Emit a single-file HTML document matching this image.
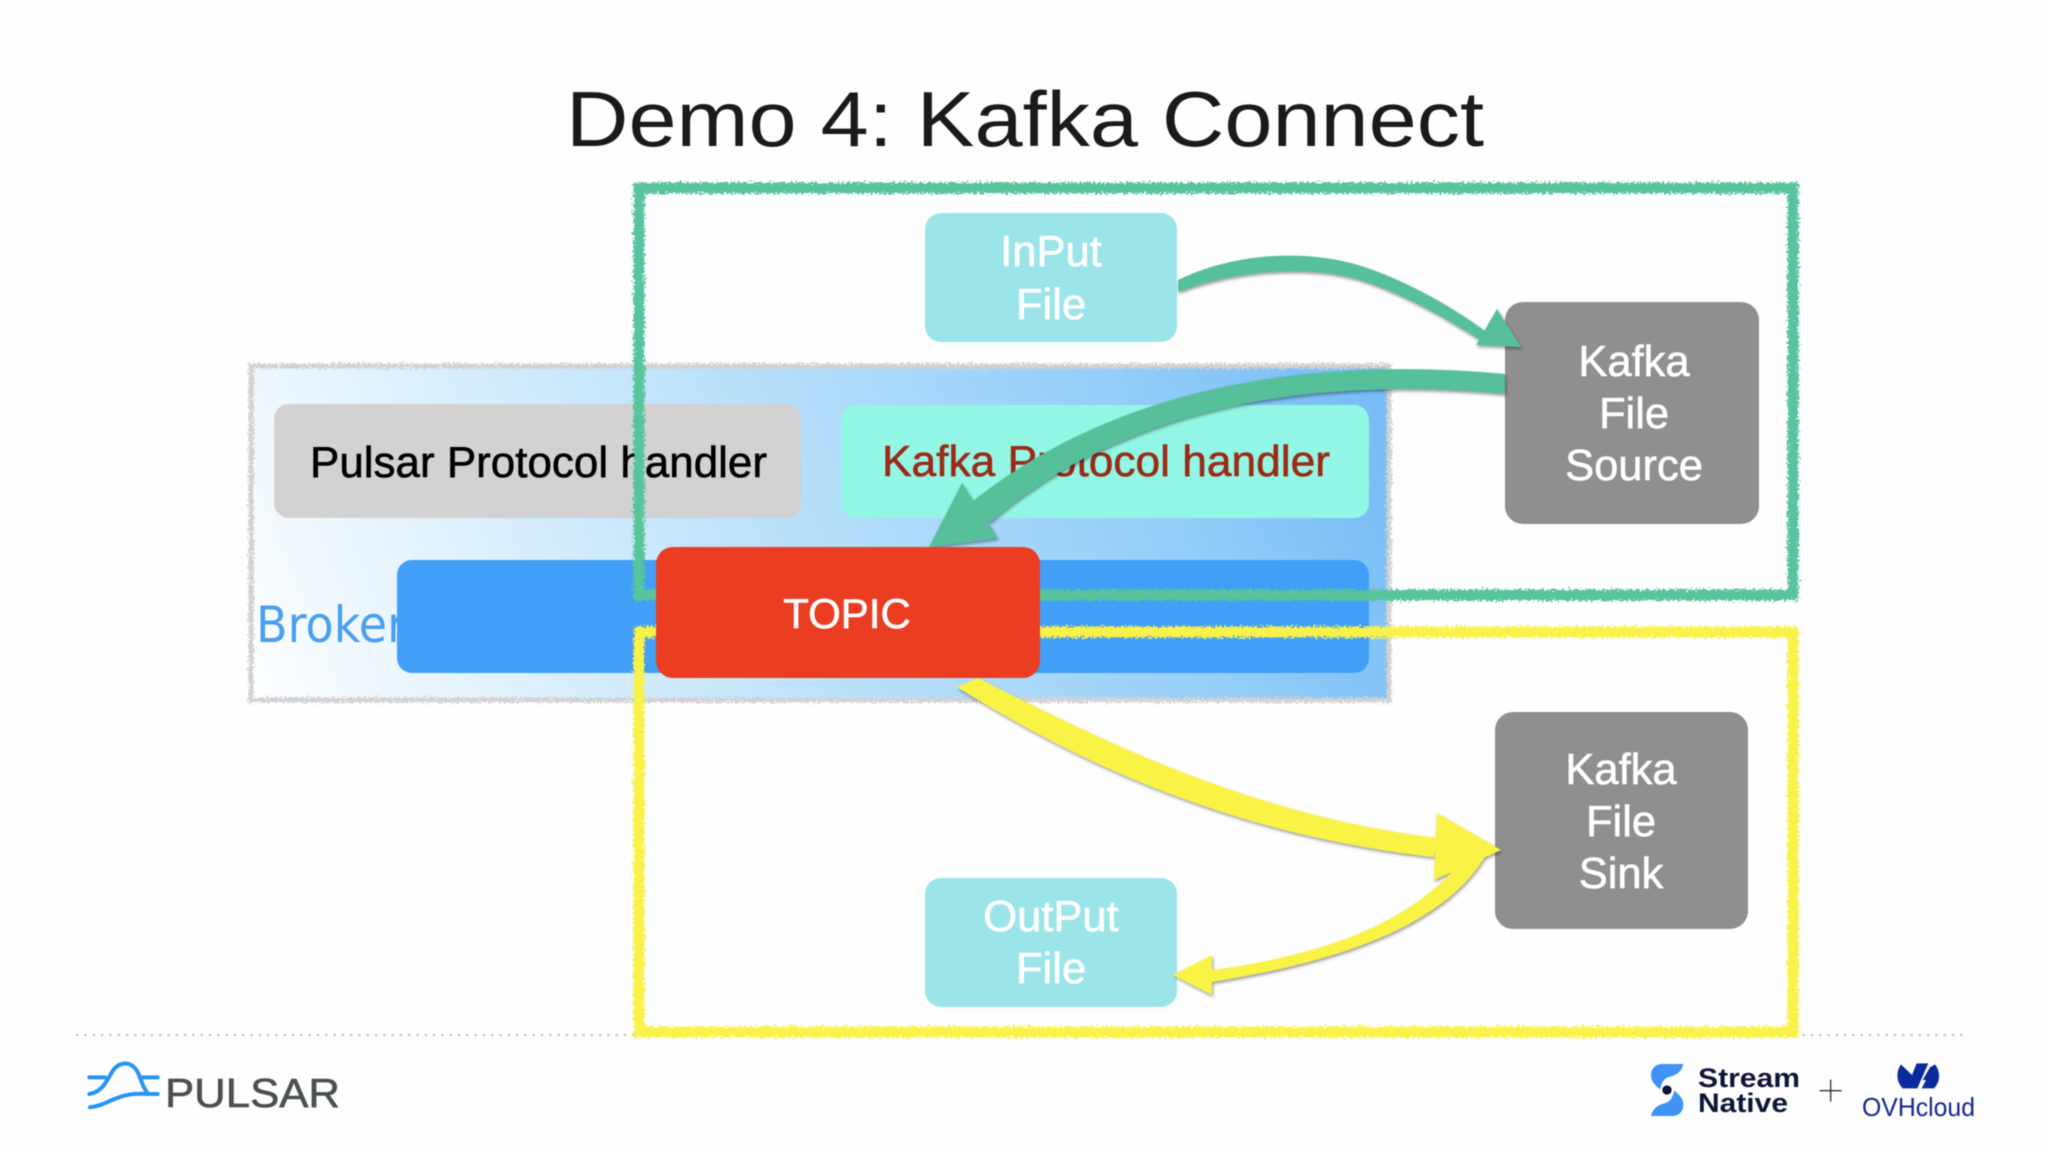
<!DOCTYPE html>
<html>
<head>
<meta charset="utf-8">
<style>
html,body{margin:0;padding:0;background:#fefefe;width:2048px;height:1152px;overflow:hidden}
svg{display:block;filter:blur(.5px)}
text{font-family:"Liberation Sans",sans-serif}
.b{stroke-width:.6px;paint-order:stroke}
</style>
</head>
<body>
<svg width="2048" height="1152" viewBox="0 0 2048 1152" xmlns="http://www.w3.org/2000/svg">
<defs>
<linearGradient id="pg" gradientUnits="userSpaceOnUse" x1="270" y1="730" x2="1340" y2="300">
<stop offset="0" stop-color="#fdfeff"/>
<stop offset=".42" stop-color="#c2e5fb"/>
<stop offset=".8" stop-color="#93cdf9"/>
<stop offset="1" stop-color="#76bcf6"/>
</linearGradient>
<filter id="rough" x="-5%" y="-5%" width="110%" height="110%">
<feTurbulence type="fractalNoise" baseFrequency=".45" numOctaves="3" seed="4"/>
<feDisplacementMap in="SourceGraphic" scale="9" xChannelSelector="R" yChannelSelector="G"/>
</filter>
<filter id="sh" x="-10%" y="-10%" width="120%" height="120%">
<feDropShadow dx="1" dy="2" stdDeviation="1.5" flood-color="#000" flood-opacity=".4"/>
</filter>
</defs>

<rect width="2048" height="1152" fill="#fefefe"/>

<text x="1025" y="146" font-size="78" fill="#1a1a1a" text-anchor="middle" textLength="918" lengthAdjust="spacingAndGlyphs">Demo 4: Kafka Connect</text>

<line x1="77" y1="1035" x2="1966" y2="1035" stroke="#b4b4b4" stroke-width="2" stroke-linecap="round" stroke-dasharray=".5 7.8"/>

<!-- Broker panel -->
<rect x="251" y="366" width="1138" height="334" fill="url(#pg)"/>
<rect x="251" y="366" width="1138" height="334" fill="none" stroke="#d2d2d4" stroke-width="5" filter="url(#rough)"/>
<text x="256" y="642" font-size="50" fill="#4a9fee" style="font-family:'DejaVu Sans',sans-serif" textLength="150" lengthAdjust="spacingAndGlyphs">Broker</text>

<rect x="274" y="404" width="527" height="114" rx="15" fill="#d2d2d2"/>
<text class="b" x="310" y="477" font-size="44" fill="#000" stroke="#000" textLength="457" lengthAdjust="spacingAndGlyphs">Pulsar Protocol handler</text>

<rect x="841" y="405" width="528" height="113" rx="15" fill="#93f7e5"/>
<text class="b" x="882" y="476" font-size="44" fill="#9c2a16" stroke="#9c2a16" textLength="448" lengthAdjust="spacingAndGlyphs">Kafka Protocol handler</text>

<rect x="397" y="560" width="972" height="113" rx="15" fill="#419ff7"/>

<!-- Top boxes -->
<rect x="925" y="213" width="252" height="129" rx="16" fill="#9be5e9"/>
<text class="b" x="1051" y="266" font-size="43.5" fill="#fff" stroke="#fff" text-anchor="middle">InPut</text>
<text class="b" x="1051" y="319" font-size="43.5" fill="#fff" stroke="#fff" text-anchor="middle">File</text>

<rect x="1505" y="302" width="254" height="222" rx="18" fill="#8f8e90"/>
<text class="b" x="1634" y="376" font-size="43.5" fill="#fff" stroke="#fff" text-anchor="middle">Kafka</text>
<text class="b" x="1634" y="428" font-size="43.5" fill="#fff" stroke="#fff" text-anchor="middle">File</text>
<text class="b" x="1634" y="480" font-size="43.5" fill="#fff" stroke="#fff" text-anchor="middle">Source</text>

<rect x="1495" y="712" width="253" height="217" rx="18" fill="#8f8e90"/>
<text class="b" x="1621" y="784" font-size="43.5" fill="#fff" stroke="#fff" text-anchor="middle">Kafka</text>
<text class="b" x="1621" y="836" font-size="43.5" fill="#fff" stroke="#fff" text-anchor="middle">File</text>
<text class="b" x="1621" y="888" font-size="43.5" fill="#fff" stroke="#fff" text-anchor="middle">Sink</text>

<rect x="925" y="878" width="252" height="129" rx="16" fill="#9be5e9"/>
<text class="b" x="1051" y="931" font-size="43.5" fill="#fff" stroke="#fff" text-anchor="middle">OutPut</text>
<text class="b" x="1051" y="983" font-size="43.5" fill="#fff" stroke="#fff" text-anchor="middle">File</text>

<!-- Rough highlight rectangles -->
<rect x="639" y="188" width="1154" height="407" fill="none" stroke="#58c49b" stroke-width="11" filter="url(#rough)"/>
<rect x="639" y="632" width="1154" height="400" fill="none" stroke="#f9f24a" stroke-width="11" filter="url(#rough)"/>

<!-- Green arrows -->
<g filter="url(#sh)" fill="#56c09a">
<path d="M1178,280 C1240,250 1320,248 1378,272 C1420,288 1460,312 1492,336 L1486,344 C1450,320 1410,298 1372,284 C1320,264 1240,268 1178,292 Z"/>
<path d="M1521,347 L1497,309 L1476,345 Z"/>
<path d="M1505,374 C1300,355 1110,390 968,505 L990,522 C1120,410 1300,375 1505,394 Z"/>
<path d="M929,547 L962,483 L998,538 Z"/>
</g>

<!-- Topic -->
<rect x="656" y="547" width="384" height="131" rx="17" fill="#ea3d22"/>
<text class="b" x="847" y="628" font-size="42" fill="#fff" stroke="#fff" text-anchor="middle">TOPIC</text>

<!-- Yellow arrows -->
<g filter="url(#sh)" fill="#f9f345">
<path d="M978,678 C1100,740 1250,815 1437,838 L1434,857 C1240,835 1090,770 957,687 Z"/>
<path d="M1501,850 L1437,813 L1434,880 Z"/>
<path d="M1490,848 C1450,925 1340,962 1205,983 L1205,971 C1330,955 1420,920 1470,850 Z"/>
<path d="M1173,975 L1212,955 L1212,995 Z"/>
</g>

<!-- Pulsar logo -->
<g transform="translate(60,1020) scale(.3333)" fill="none" stroke="#2795f0" stroke-width="12" stroke-linecap="round">
<path d="M88,172 H135"/>
<path d="M88,222 C130,215 140,180 160,150 C180,125 215,120 235,160 C245,185 250,205 265,222"/>
<path d="M90,262 C150,255 170,215 265,222 H293"/>
<path d="M245,172 H293"/>
</g>
<text class="b" x="165" y="1107" font-size="41" fill="#4a4f52" stroke="#4a4f52" textLength="175" lengthAdjust="spacingAndGlyphs">PULSAR</text>

<!-- StreamNative logo -->
<g transform="translate(1620,1030) scale(.3333)">
<path fill="#3f93f5" d="M125,102 H190 C185,125 170,135 150,140 C130,145 125,160 120,178 C105,165 93,155 93,135 C93,115 108,102 125,102 Z"/>
<path fill="#3f93f5" d="M158,258 H93 C98,235 113,225 133,220 C153,215 158,200 163,182 C178,195 190,205 190,225 C190,245 175,258 158,258 Z"/>
<circle cx="141" cy="180" r="14" fill="#0e1638"/>
<path d="M599,182 H665 M632,149 V215" stroke="#333" stroke-width="4" fill="none"/>
<path fill="#0b2a9e" d="M843,103 C828,125 828,155 848,175 L892,175 L925,100 L890,100 L876,135 Z"/>
<path fill="#0b2a9e" d="M945,103 C962,125 962,155 942,175 L905,175 L918,150 L908,150 L930,112 Z"/>
</g>
<text x="1698" y="1087" font-size="27" font-weight="bold" fill="#0e1638" textLength="102" lengthAdjust="spacingAndGlyphs">Stream</text>
<text x="1698" y="1112" font-size="27" font-weight="bold" fill="#0e1638" textLength="90" lengthAdjust="spacingAndGlyphs">Native</text>
<text x="1862" y="1116" font-size="26" fill="#12278f" textLength="113" lengthAdjust="spacingAndGlyphs">OVHcloud</text>
</svg>
</body>
</html>
